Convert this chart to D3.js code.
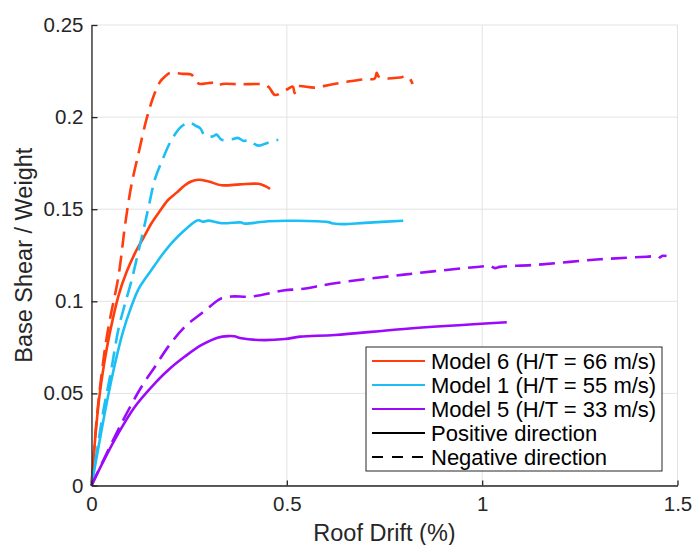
<!DOCTYPE html>
<html>
<head>
<meta charset="utf-8">
<script src="https://cdn.jsdelivr.net/npm/d3@7"></script>
<style>
  html, body { margin: 0; padding: 0; background: #fff; }
  svg { display: block; font-family: "Liberation Sans", Arial, Helvetica, sans-serif; }
</style>
</head>
<body>
<svg id="chart" width="692" height="545"></svg>
<script>
// Pushover curves: roof drift (%) vs. base shear / weight
const xTicks = [0, 0.5, 1, 1.5];
const yTicks = [0, 0.05, 0.1, 0.15, 0.2, 0.25];
const xTickLabels = ["0", "0.5", "1", "1.5"];
const yTickLabels = ["0", "0.05", "0.1", "0.15", "0.2", "0.25"];

const model6Pos = [[0,0],[0.01,0.027],[0.02,0.048],[0.033,0.067],[0.047,0.083],[0.069,0.103],[0.09,0.116],[0.111,0.126],[0.133,0.1345],[0.154,0.1425],[0.175,0.149],[0.196,0.155],[0.218,0.159],[0.239,0.163],[0.255,0.165],[0.273,0.166],[0.3,0.165],[0.333,0.163],[0.38,0.1635],[0.427,0.1638],[0.445,0.1625],[0.457,0.161]];
const model6Neg = [[0,0],[0.01,0.028],[0.02,0.05],[0.035,0.075],[0.047,0.09],[0.069,0.1135],[0.085,0.14],[0.094,0.153],[0.103,0.164],[0.12,0.18],[0.141,0.199],[0.16,0.212],[0.175,0.219],[0.188,0.222],[0.201,0.224],[0.23,0.2235],[0.256,0.223],[0.268,0.219],[0.278,0.218],[0.3,0.2185],[0.318,0.2185],[0.324,0.2172],[0.335,0.218],[0.38,0.2178],[0.444,0.2176],[0.455,0.216],[0.47,0.212],[0.5,0.215],[0.515,0.2165],[0.52,0.213],[0.525,0.2165],[0.572,0.216],[0.611,0.2176],[0.65,0.219],[0.695,0.2205],[0.725,0.221],[0.73,0.224],[0.735,0.222],[0.755,0.221],[0.79,0.2215],[0.81,0.222],[0.822,0.218]];
const model1Pos = [[0,0],[0.018,0.021],[0.04,0.046],[0.06,0.066],[0.08,0.083],[0.1,0.096],[0.12,0.1065],[0.14,0.113],[0.16,0.119],[0.18,0.125],[0.205,0.1316],[0.235,0.138],[0.265,0.1433],[0.275,0.144],[0.285,0.1432],[0.299,0.1438],[0.333,0.1424],[0.384,0.1428],[0.39,0.1422],[0.453,0.1435],[0.521,0.1437],[0.606,0.143],[0.62,0.1422],[0.644,0.1419],[0.7,0.1426],[0.798,0.1437]];
const model1Neg = [[0,0],[0.015,0.02],[0.03,0.04],[0.05,0.062],[0.069,0.085],[0.085,0.098],[0.103,0.1117],[0.12,0.127],[0.137,0.1425],[0.15,0.155],[0.162,0.166],[0.18,0.176],[0.205,0.1877],[0.231,0.195],[0.252,0.197],[0.265,0.1955],[0.278,0.194],[0.29,0.19],[0.31,0.1895],[0.32,0.1905],[0.333,0.1877],[0.36,0.188],[0.375,0.1887],[0.39,0.187],[0.4,0.1875],[0.427,0.1845],[0.45,0.186],[0.478,0.1877]];
const model5Pos = [[0,0],[0.03,0.013],[0.0686,0.0283],[0.111,0.0428],[0.154,0.0536],[0.1966,0.0627],[0.239,0.07],[0.282,0.0763],[0.3246,0.0804],[0.35,0.0811],[0.365,0.081],[0.384,0.0799],[0.427,0.079],[0.495,0.0795],[0.534,0.0808],[0.623,0.0817],[0.8,0.085],[1.063,0.0886]];
const model5Neg = [[0,0],[0.043,0.0193],[0.0857,0.0374],[0.128,0.0536],[0.1625,0.0645],[0.1966,0.0754],[0.239,0.0862],[0.282,0.0935],[0.3246,0.1007],[0.333,0.1017],[0.3588,0.1026],[0.41,0.1026],[0.495,0.106],[0.534,0.1066],[0.623,0.1098],[0.8,0.1145],[0.994,0.1188],[1.02,0.1192],[1.033,0.118],[1.045,0.1187],[1.131,0.1197],[1.3016,0.1228],[1.421,0.1242],[1.45,0.1245],[1.455,0.1238],[1.46,0.1246],[1.472,0.1246]];

const modelNames = ["Model 6 (H/T = 66 m/s)", "Model 1 (H/T = 55 m/s)", "Model 5 (H/T = 33 m/s)"];
const modelColors = ["#ff3d0d", "#1cbff5", "#9b0afb"];
const directionNames = ["Positive direction", "Negative direction"];

const series = [
  { data: model6Pos, model: 0, dir: 0 },
  { data: model6Neg, model: 0, dir: 1 },
  { data: model1Pos, model: 1, dir: 0 },
  { data: model1Neg, model: 1, dir: 1 },
  { data: model5Pos, model: 2, dir: 0 },
  { data: model5Neg, model: 2, dir: 1 }
];

const svg = d3.select("#chart");
const margin = { left: 91.5, right: 14.5, top: 25, bottom: 59.5 };
const W = 692, H = 545;
const x = d3.scaleLinear().domain([0, 1.5]).range([margin.left, W - margin.right]);
const y = d3.scaleLinear().domain([0, 0.25]).range([H - margin.bottom, margin.top]);

const dash = "16,8";
const fontFamily = "'Liberation Sans', Arial, sans-serif";

// grid
const grid = svg.append("g");
grid.selectAll("line.gx").data(xTicks).join("line")
  .attr("x1", d => x(d)).attr("x2", d => x(d))
  .attr("y1", y(0)).attr("y2", y(0.25))
  .attr("stroke", "#e3e3e3").attr("stroke-width", 1);
grid.selectAll("line.gy").data(yTicks).join("line")
  .attr("x1", x(0)).attr("x2", x(1.5))
  .attr("y1", d => y(d)).attr("y2", d => y(d))
  .attr("stroke", "#e3e3e3").attr("stroke-width", 1);

// curves
const line = d3.line().x(d => x(d[0])).y(d => y(d[1])).curve(d3.curveCatmullRom.alpha(0.5));
svg.append("g").selectAll("path").data(series).join("path")
  .attr("d", d => line(d.data))
  .attr("fill", "none")
  .attr("stroke", d => modelColors[d.model])
  .attr("stroke-width", 2.6)
  .attr("stroke-linejoin", "round")
  .attr("stroke-dasharray", d => d.dir === 1 ? dash : null);

// axes
const axisColor = "#262626";
const xAxis = d3.axisBottom(x).tickValues(xTicks).tickFormat((d, i) => xTickLabels[i])
  .tickSizeInner(-5).tickSizeOuter(0).tickPadding(11);
const yAxis = d3.axisLeft(y).tickValues(yTicks).tickFormat((d, i) => yTickLabels[i])
  .tickSizeInner(-6).tickSizeOuter(0).tickPadding(8);

const gx = svg.append("g").attr("transform", `translate(0,${y(0)})`).call(xAxis);
const gy = svg.append("g").attr("transform", `translate(${x(0)},0)`).call(yAxis);
[gx, gy].forEach(g => {
  g.attr("font-size", null).attr("font-family", null);
  g.select(".domain").attr("stroke", axisColor).attr("stroke-width", 1.3);
  g.selectAll(".tick line").attr("stroke", axisColor).attr("stroke-width", 1.3);
  g.selectAll(".tick text").attr("fill", "#262626")
    .style("font-size", "20.5px").style("font-family", fontFamily);
});

// axis titles
svg.append("text")
  .attr("x", (x(0) + x(1.5)) / 2).attr("y", 541)
  .attr("text-anchor", "middle").style("font-size", "23.5px").attr("fill", "#262626")
  .text("Roof Drift (%)");
svg.append("text")
  .attr("transform", `translate(32,${(y(0) + y(0.25)) / 2}) rotate(-90)`)
  .attr("text-anchor", "middle").style("font-size", "23.5px").attr("fill", "#262626")
  .text("Base Shear / Weight");

// legend
const lg = svg.append("g").attr("transform", "translate(366,347)");
lg.append("rect").attr("width", 296).attr("height", 124)
  .attr("fill", "#fff").attr("stroke", "#262626").attr("stroke-width", 1);
const entries = modelNames.map((n, i) => ({ label: n, color: modelColors[i], dashed: false }))
  .concat(directionNames.map((n, i) => ({ label: n, color: "#000", dashed: i === 1 })));
const rows = lg.selectAll("g.row").data(entries).join("g")
  .attr("transform", (d, i) => `translate(0,${14 + i * 24})`);
rows.append("line").attr("x1", 6).attr("x2", 59).attr("y1", 0).attr("y2", 0)
  .attr("stroke", d => d.color).attr("stroke-width", 2)
  .attr("stroke-dasharray", d => d.dashed ? "11,9" : null);
rows.append("text").attr("x", 65).attr("y", 7.5)
  .style("font-size", "22px").attr("fill", "#000").text(d => d.label);
</script>
</body>
</html>
